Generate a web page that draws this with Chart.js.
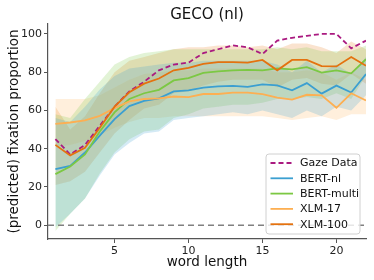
<!DOCTYPE html>
<html>
<head>
<meta charset="utf-8">
<script src="https://cdn.jsdelivr.net/npm/chart.js@4"></script>
<style>
  html, body { margin: 0; padding: 0; background: #fff; }
</style>
</head>
<body>
<canvas id="chart" width="374" height="280"></canvas>
<script>
// ── data
const wordLength = [1, 2, 3, 4, 5, 6, 7, 8, 9, 10, 11, 12, 13, 14, 15, 16, 17, 18, 19, 20, 21, 22];
const xTicks = [5, 10, 15, 20];
const yTicks = [0, 20, 40, 60, 80, 100];

const gazeData  = [45, 37, 42, 52, 62, 70, 75, 81, 84, 85, 90, 92, 94, 93, 89.5, 96.5, 98, 99, 100, 100, 92.5, 96.5];
const bertNl    = [29.3, 31, 38, 46.8, 55.5, 62.3, 65, 66.3, 70, 70.5, 71.9, 72.6, 72.9, 72.3, 73.6, 73.1, 70.5, 74.3, 68.8, 73, 69.4, 79];
const bertMulti = [26.7, 30.7, 37, 49, 59, 66, 69, 70.8, 75.7, 76.9, 79.6, 80.4, 81, 81.2, 81, 82, 81.5, 82.6, 79.8, 81, 79.4, 86.8];
const xlm17     = [53, 53.7, 54.8, 57.2, 61.2, 64.7, 66, 66.3, 67.3, 67, 68.6, 68.6, 69.3, 69.3, 68.5, 66.7, 65.7, 68.2, 67.9, 61.4, 69, 65.2];
const xlm100    = [42, 36.5, 40.5, 51, 62, 69.5, 74, 76.7, 81, 82.3, 84.4, 85.3, 85.3, 85, 86.4, 81, 86.4, 86.4, 83.2, 83, 87.9, 83.4];

// confidence bands
const bertNlLow     = [-1, 6, 14, 26, 37, 43, 48, 49, 55, 56, 57, 58, 59, 58, 60, 58, 56, 60, 57, 62, 60, 68];
const bertNlHigh    = [56, 54, 62, 71, 78, 82, 83, 84, 85, 85, 86, 86, 86, 86, 86, 84, 80, 86, 80, 84, 79, 88];
const bertMultiLow  = [-3, 6, 14, 27, 38, 45, 49, 50, 56, 58, 61, 62, 63, 63, 64, 66, 66, 67, 66, 69, 66, 78];
const bertMultiHigh = [58, 56, 66, 75, 84, 88, 90, 91, 92, 92, 92, 92, 92, 92, 92, 93, 92, 93, 91, 91, 91, 94];
const xlm17Low      = [41, 42, 44, 47, 51, 54, 56, 56, 57, 57, 57, 57, 57, 57, 57, 56, 55, 56, 57, 55, 58, 58];
const xlm17High     = [66, 66, 66, 68, 72, 76, 79, 80, 81, 81, 82, 82, 82, 82, 82, 80, 80, 81, 80, 76, 80, 76];
const xlm100Low     = [21, 23, 28, 38, 48, 55, 61, 63, 69, 70, 73, 75, 76, 76, 76, 72, 76, 77, 74, 73, 79, 74];
const xlm100High    = [62, 50, 57, 69, 80, 86, 88, 90, 92, 93, 93, 94, 94, 93, 94, 92, 95, 95, 93, 90, 96, 92];

const zeroLine = [0, 0];
const zeroX = [0.5, 22];

const colors = {
  gaze:      '#aa1a80',
  bertNl:    '#3b9fd1',
  bertMulti: '#7cc843',
  xlm17:     '#fdaf52',
  xlm100:    '#e4720f',
};

const pts = (ys, xs = wordLength) => ys.map((y, i) => ({ x: xs[i], y }));

function lineSet(label, data, color, order, dash) {
  return {
    label, data: pts(data),
    borderColor: color, borderWidth: 1.8, borderDash: dash || [],
    pointRadius: 0, tension: 0, fill: false, order,
  };
}

function bandSets(high, low, color, alpha, idx) {
  // upper edge fills down to the next dataset (the lower edge)
  return [
    { label: '_band', data: pts(high), borderWidth: 0, pointRadius: 0, tension: 0,
      backgroundColor: color + alpha, fill: idx + 1, order: 10 },
    { label: '_band', data: pts(low), borderWidth: 0, pointRadius: 0, tension: 0,
      fill: false, order: 10 },
  ];
}

const datasets = [
  lineSet('Gaze Data', gazeData, colors.gaze, 5, [5, 3]),
  lineSet('BERT-nl', bertNl, colors.bertNl, 4),
  lineSet('BERT-multi', bertMulti, colors.bertMulti, 3),
  lineSet('XLM-17', xlm17, colors.xlm17, 2),
  lineSet('XLM-100', xlm100, colors.xlm100, 1),
  { label: '_zero', data: pts(zeroLine, zeroX), borderColor: '#808080', borderWidth: 1.5,
    borderDash: [6, 4], pointRadius: 0, fill: false, order: 6 },
];
datasets.push(...bandSets(bertNlHigh, bertNlLow, colors.bertNl, '38', datasets.length));
datasets.push(...bandSets(bertMultiHigh, bertMultiLow, colors.bertMulti, '38', datasets.length));
datasets.push(...bandSets(xlm17High, xlm17Low, colors.xlm17, '33', datasets.length));
datasets.push(...bandSets(xlm100High, xlm100Low, colors.xlm100, '33', datasets.length));

const FONT = 'DejaVu Sans';
const legendItems = ['Gaze Data', 'BERT-nl', 'BERT-multi', 'XLM-17', 'XLM-100'];

// ── title + legend drawn on top
const overlay = {
  id: 'overlay',
  afterDraw(chart) {
    const { ctx, chartArea: a } = chart;
    ctx.save();
    ctx.fillStyle = '#111';
    ctx.font = '15px ' + FONT;
    ctx.textAlign = 'center';
    ctx.textBaseline = 'middle';
    ctx.fillText('GECO (nl)', (a.left + a.right) / 2, 15);

    // legend box
    const w = 94, h = 80;
    const x0 = a.right - 6 - w, y0 = a.bottom - 5 - h;
    ctx.beginPath();
    ctx.roundRect(x0, y0, w, h, 3);
    ctx.fillStyle = 'rgba(255,255,255,0.8)';
    ctx.fill();
    ctx.strokeStyle = '#d0d0d0';
    ctx.lineWidth = 1;
    ctx.stroke();

    ctx.font = '11px ' + FONT;
    ctx.textAlign = 'left';
    legendItems.forEach((name, i) => {
      const ds = chart.data.datasets.find(d => d.label === name);
      const y = y0 + 9 + i * 15.3;
      ctx.beginPath();
      ctx.setLineDash(ds.borderDash);
      ctx.strokeStyle = ds.borderColor;
      ctx.lineWidth = 1.8;
      ctx.moveTo(x0 + 4.5, y);
      ctx.lineTo(x0 + 27, y);
      ctx.stroke();
      ctx.setLineDash([]);
      ctx.fillStyle = '#111';
      ctx.fillText(name, x0 + 34, y + 0.5);
    });
    ctx.restore();
  }
};

const axisCol = '#555';

new Chart(document.getElementById('chart'), {
  type: 'line',
  data: { datasets },
  options: {
    responsive: false,
    animation: false,
    layout: { padding: { top: 24, right: 8, left: 0, bottom: 0 } },
    plugins: {
      legend: { display: false },
      title: { display: false },
      tooltip: { enabled: false },
    },
    scales: {
      x: {
        type: 'linear', min: 0.5, max: 22,
        afterBuildTicks: s => { s.ticks = xTicks.map(v => ({ value: v })); },
        afterFit: s => { s.height = 41; },
        grid: { drawOnChartArea: false, drawTicks: true, tickLength: 4, color: axisCol },
        border: { display: true, color: axisCol, width: 1.2 },
        ticks: { color: '#222', font: { family: FONT, size: 11 }, padding: 2, maxRotation: 0 },
        title: { display: true, text: 'word length', color: '#111',
                 font: { family: FONT, size: 13.5 }, padding: { top: 0, bottom: 9 } },
      },
      y: {
        min: -7.2, max: 105.2,
        afterBuildTicks: s => { s.ticks = yTicks.map(v => ({ value: v })); },
        afterFit: s => { s.width = 48; },
        grid: { drawOnChartArea: false, drawTicks: true, tickLength: 4, color: axisCol },
        border: { display: true, color: axisCol, width: 1.2 },
        ticks: { color: '#222', font: { family: FONT, size: 11 }, padding: 2 },
        title: { display: true, text: '(predicted) fixation proportion', color: '#111',
                 font: { family: FONT, size: 13.5 }, padding: { top: 6, bottom: 0 } },
      },
    },
  },
  plugins: [overlay],
});
</script>
</body>
</html>
